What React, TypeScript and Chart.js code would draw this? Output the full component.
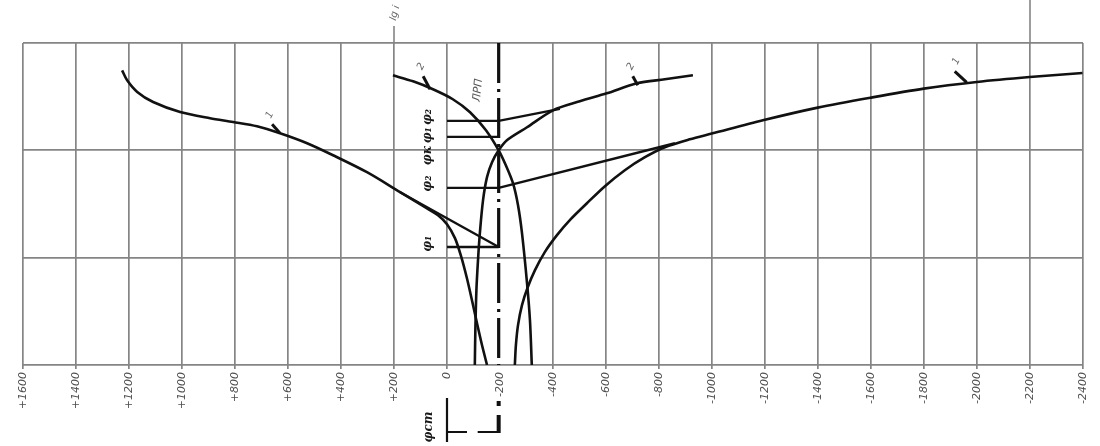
import React, { useEffect, useRef } from 'react';
import { Chart, registerables } from 'chart.js';

Chart.register(...registerables);

// ---- axis ticks ----
const potentialTicks = [1600, 1400, 1200, 1000, 800, 600, 400, 200, 0, -200, -400, -600, -800, -1000, -1200, -1400, -1600, -1800, -2000, -2200, -2400];
const potentialTickLabels = ['+1600', '+1400', '+1200', '+1000', '+800', '+600', '+400', '+200', '0', '-200', '-400', '-600', '-800', '-1000', '-1200', '-1400', '-1600', '-1800', '-2000', '-2200', '-2400'];
const lgIMin = 0;
const lgIMax = 3;

// equilibrium potential line (ЛРП)
const lrpE = -195;

// ---- curve 1, anodic branch (potential, lg i) ----
const c1aE = [-151, -132, -113, -94, -75, -53, -30, 0, 34, 83, 177, 302, 430, 528, 630, 717, 807, 894, 1007, 1109, 1169, 1207, 1226];
const c1aI = [0, 0.186, 0.391, 0.605, 0.81, 1.014, 1.182, 1.312, 1.396, 1.47, 1.61, 1.796, 1.954, 2.066, 2.159, 2.224, 2.264, 2.299, 2.357, 2.45, 2.544, 2.652, 2.745];
// ---- curve 1, cathodic branch ----
const c1cE = [-256, -260, -268, -283, -305, -332, -369, -415, -467, -528, -596, -671, -747, -822, -916, -999, -1192, -1399, -1599, -1799, -1999, -2199, -2398];
const c1cI = [0, 0.186, 0.372, 0.558, 0.726, 0.884, 1.052, 1.21, 1.359, 1.507, 1.666, 1.815, 1.936, 2.029, 2.103, 2.156, 2.28, 2.398, 2.491, 2.575, 2.637, 2.683, 2.72];
// ---- curve 2, anodic branch ----
const c2aE = [-320, -313, -302, -283, -268, -249, -222, -195, -147, -87, -22, 53, 128, 204];
const c2aI = [0, 0.419, 0.763, 1.228, 1.489, 1.694, 1.861, 2.0, 2.187, 2.355, 2.476, 2.569, 2.643, 2.699];
// ---- curve 2, cathodic branch ----
const c2cE = [-105, -107, -111, -117, -124, -136, -151, -170, -195, -226, -302, -400, -501, -603, -716, -822, -928];
const c2cI = [0, 0.326, 0.698, 0.977, 1.228, 1.536, 1.75, 1.889, 2.0, 2.094, 2.215, 2.373, 2.457, 2.531, 2.624, 2.662, 2.699];

// ---- Tafel extrapolations (straight lines) ----
const tafel1aE = [177, lrpE];
const tafel1aI = [1.61, 1.1];
const tafel1cE = [lrpE, -860];
const tafel1cI = [1.65, 2.066];
const tafel2cE = [lrpE, -426];
const tafel2cI = [2.274, 2.386];

// ---- horizontal level lines from φ = 0 to ЛРП ----
const levelStartE = 0;
const levelI = [2.274, 2.125, 1.65, 1.1];
const levelLabels = ['φ₂', 'φ₁', 'φк', 'φ₂', 'φ₁'];
const levelLabelI = [2.31, 2.14, 1.95, 1.69, 1.13];
const levelLabelE = 72;

// ---- curve number labels ----
const curveNames = ['1', '2', '2', '1'];
const curveLeaderFromE = [630, 64, -720, -1961];
const curveLeaderFromI = [2.159, 2.569, 2.606, 2.634];
const curveLeaderToE = [660, 90, -701, -1916];
const curveLeaderToI = [2.243, 2.69, 2.69, 2.736];
const curveLabelE = [668, 98, -694, -1922];
const curveLabelI = [2.33, 2.78, 2.78, 2.83];

const gridColor = '#858585';
const ink = '#111111';

const pts = (es: number[], is: number[]) => es.map((e, k) => ({ x: e, y: is[k] }));

function rotText(ctx: CanvasRenderingContext2D, text: string, x: number, y: number, angle: number, font: string, color: string) {
  ctx.save();
  ctx.translate(x, y);
  ctx.rotate(angle);
  ctx.font = font;
  ctx.fillStyle = color;
  ctx.textAlign = 'center';
  ctx.textBaseline = 'middle';
  ctx.fillText(text, 0, 0);
  ctx.restore();
}

const overlayPlugin = {
  id: 'overlay',
  afterDraw(chart: any) {
    const ctx: CanvasRenderingContext2D = chart.ctx;
    const xs = chart.scales.x;
    const ys = chart.scales.y;
    const area = chart.chartArea;
    const px = (e: number) => xs.getPixelForValue(e);
    const py = (v: number) => ys.getPixelForValue(v);
    ctx.save();
    // grid lines extended above the frame
    ctx.strokeStyle = gridColor;
    ctx.lineWidth = 1.6;
    ctx.beginPath();
    ctx.moveTo(px(200), 26);
    ctx.lineTo(px(200), area.top);
    ctx.moveTo(px(-2200), 0);
    ctx.lineTo(px(-2200), area.top);
    ctx.stroke();
    rotText(ctx, 'lg i', px(200) + 1, 13, -Math.PI / 2 + 0.25, 'italic 10px "DejaVu Sans"', '#666');

    // ЛРП label
    rotText(ctx, 'ЛРП', px(-117), py(2.56), -Math.PI / 2 + 0.1, 'italic 11px "DejaVu Sans"', '#555');

    // curve leaders and numbers
    ctx.strokeStyle = ink;
    ctx.lineWidth = 3;
    for (let k = 0; k < curveNames.length; k++) {
      ctx.beginPath();
      ctx.moveTo(px(curveLeaderFromE[k]), py(curveLeaderFromI[k]));
      ctx.lineTo(px(curveLeaderToE[k]), py(curveLeaderToI[k]));
      ctx.stroke();
      rotText(ctx, curveNames[k], px(curveLabelE[k]), py(curveLabelI[k]), -1.1, 'italic 10px "DejaVu Sans"', '#666');
    }

    // level labels (φ)
    for (let k = 0; k < levelLabels.length; k++) {
      rotText(ctx, levelLabels[k], px(levelLabelE), py(levelLabelI[k]), -Math.PI / 2, 'bold italic 12px "DejaVu Serif"', '#1a1a1a');
    }

    // dimension marks below the axis
    const x0 = px(levelStartE);
    const xl = px(lrpE);
    ctx.strokeStyle = ink;
    ctx.lineWidth = 2.2;
    ctx.beginPath();
    ctx.moveTo(x0, 398);
    ctx.lineTo(x0, 442);
    ctx.moveTo(x0, 432);
    ctx.lineTo(x0 + 20, 432);
    ctx.moveTo(xl - 21, 432);
    ctx.lineTo(xl, 432);
    ctx.stroke();
    ctx.lineWidth = 4;
    ctx.beginPath();
    ctx.moveTo(xl, 415);
    ctx.lineTo(xl, 433);
    ctx.moveTo(xl, 401);
    ctx.lineTo(xl, 406);
    ctx.stroke();
    rotText(ctx, 'φст', x0 - 18, 427, -Math.PI / 2, 'bold italic 12px "DejaVu Serif"', '#1a1a1a');
    ctx.restore();
  },
};

export default function App() {
  const ref = useRef<HTMLCanvasElement | null>(null);
  useEffect(() => {
    if (!ref.current) return;
    const curve = (es: number[], is: number[]) => ({
      data: pts(es, is),
      showLine: true,
      borderColor: ink,
      borderWidth: 2.6,
      pointRadius: 0,
      tension: 0.3,
      fill: false,
    });
    const straight = (es: number[], is: number[]) => ({
      data: pts(es, is),
      showLine: true,
      borderColor: ink,
      borderWidth: 2.4,
      pointRadius: 0,
      tension: 0,
      fill: false,
    });
    const datasets: any[] = [
      curve(c1aE, c1aI),
      curve(c1cE, c1cI),
      curve(c2aE, c2aI),
      curve(c2cE, c2cI),
      straight(tafel1aE, tafel1aI),
      straight(tafel1cE, tafel1cI),
      straight(tafel2cE, tafel2cI),
      ...levelI.map((v) => straight([levelStartE, lrpE], [v, v])),
      {
        data: pts([lrpE, lrpE], [lgIMax, lgIMin]),
        showLine: true,
        borderColor: ink,
        borderWidth: 3.2,
        borderDash: [40, 6, 3, 6],
        pointRadius: 0,
        fill: false,
      },
    ];
    const chart = new Chart(ref.current, {
      type: 'scatter',
      data: { datasets },
      plugins: [overlayPlugin],
      options: {
        responsive: false,
        animation: false,
        devicePixelRatio: 1,
        layout: { padding: { left: 23, top: 43, right: 17, bottom: 0 } },
        plugins: { legend: { display: false }, tooltip: { enabled: false } },
        scales: {
          x: {
            type: 'linear',
            reverse: true,
            min: -2400,
            max: 1600,
            afterBuildTicks: (s: any) => {
              s.ticks = potentialTicks.map((v) => ({ value: v }));
            },
            afterFit: (s: any) => {
              s.height = 81;
            },
            grid: {
              color: (c: any) => (c.tick && c.tick.value === -200 ? 'rgba(0,0,0,0)' : gridColor),
              lineWidth: 1.7,
              tickLength: 4,
            },
            border: { display: false },
            ticks: {
              autoSkip: false,
              maxRotation: 90,
              minRotation: 90,
              padding: 3,
              color: '#505050',
              font: { family: 'DejaVu Sans', size: 11, style: 'italic' },
              callback: (v: any) => {
                const k = potentialTicks.indexOf(Number(v));
                return k >= 0 ? potentialTickLabels[k] : '';
              },
            },
          },
          y: {
            type: 'linear',
            min: lgIMin,
            max: lgIMax,
            ticks: { display: false, stepSize: 1 },
            afterFit: (s: any) => {
              s.width = 0;
            },
            grid: { color: gridColor, lineWidth: 1.7, tickLength: 0, drawTicks: false },
            border: { display: false },
          },
        },
      },
    });
    return () => chart.destroy();
  }, []);
  return (
    <div style={{ position: 'absolute', left: 0, top: 0, width: 1100, height: 446, background: '#fff' }}>
      <canvas ref={ref} width={1100} height={446} style={{ display: 'block' }} />
    </div>
  );
}
